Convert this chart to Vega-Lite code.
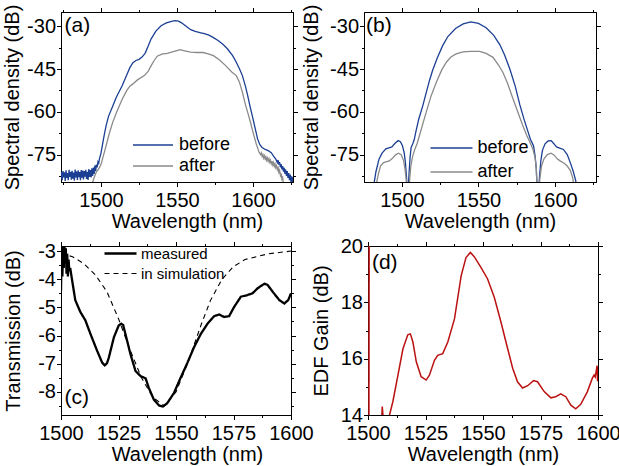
{
  "$schema": "https://vega.github.io/schema/vega-lite/v6.json",
  "background": "white",
  "padding": {"left": 2, "top": 3, "right": 2, "bottom": 0},
  "config": {
    "font": "Liberation Sans",
    "view": {"stroke": "black", "strokeWidth": 1},
    "axis": {"grid": false, "domainColor": "black", "tickColor": "black", "labelColor": "black", "titleColor": "black", "labelFontSize": 20, "titleFontSize": 20, "titleFontWeight": "normal", "labelFont": "Liberation Sans", "titleFont": "Liberation Sans", "labelFlush": false, "labelOverlap": false, "labelBound": false, "labelPadding": 4, "titlePadding": 1, "tickWidth": 1, "domainWidth": 1},
    "axisY": {"labelPadding": 1},
    "legend": {"labelFont": "Liberation Sans", "labelColor": "black"}
  },
  "datasets": {
    "a": [
      {"wl":1472.5,"db":-82,"s":"before"},{"wl":1473,"db":-80.6,"s":"before"},{"wl":1473.5,"db":-83.5,"s":"before"},{"wl":1474,"db":-81,"s":"before"},{"wl":1474.5,"db":-84,"s":"before"},{"wl":1475,"db":-80.8,"s":"before"},{"wl":1475.5,"db":-83,"s":"before"},{"wl":1476,"db":-81.2,"s":"before"},{"wl":1476.5,"db":-84.2,"s":"before"},{"wl":1477,"db":-80.5,"s":"before"},{"wl":1477.5,"db":-83.2,"s":"before"},{"wl":1478,"db":-81.5,"s":"before"},{"wl":1478.5,"db":-84,"s":"before"},{"wl":1479,"db":-80.3,"s":"before"},{"wl":1479.5,"db":-82.8,"s":"before"},{"wl":1480,"db":-81,"s":"before"},{"wl":1480.5,"db":-83.8,"s":"before"},{"wl":1481,"db":-80.7,"s":"before"},{"wl":1481.5,"db":-83.4,"s":"before"},{"wl":1482,"db":-81.3,"s":"before"},{"wl":1482.5,"db":-84.1,"s":"before"},{"wl":1483,"db":-80.2,"s":"before"},{"wl":1483.5,"db":-83,"s":"before"},{"wl":1484,"db":-80.9,"s":"before"},{"wl":1484.5,"db":-83.9,"s":"before"},{"wl":1485,"db":-80.5,"s":"before"},{"wl":1485.5,"db":-82.9,"s":"before"},{"wl":1486,"db":-81.1,"s":"before"},{"wl":1486.5,"db":-84,"s":"before"},{"wl":1487,"db":-80.4,"s":"before"},{"wl":1487.5,"db":-83.1,"s":"before"},{"wl":1488,"db":-80.6,"s":"before"},{"wl":1488.5,"db":-83.7,"s":"before"},{"wl":1489,"db":-80.8,"s":"before"},{"wl":1489.5,"db":-82.7,"s":"before"},{"wl":1490,"db":-80.3,"s":"before"},{"wl":1490.5,"db":-83.5,"s":"before"},{"wl":1491,"db":-81,"s":"before"},{"wl":1491.5,"db":-83.9,"s":"before"},{"wl":1492,"db":-80.1,"s":"before"},{"wl":1492.5,"db":-82.8,"s":"before"},{"wl":1493,"db":-80.4,"s":"before"},{"wl":1493.5,"db":-83,"s":"before"},{"wl":1494,"db":-79.8,"s":"before"},{"wl":1494.5,"db":-82.5,"s":"before"},{"wl":1495,"db":-79.5,"s":"before"},{"wl":1495.5,"db":-81.8,"s":"before"},{"wl":1496,"db":-78.8,"s":"before"},{"wl":1496.5,"db":-80.8,"s":"before"},{"wl":1497,"db":-78.5,"s":"before"},{"wl":1497.5,"db":-79.5,"s":"before"},{"wl":1498,"db":-77.5,"s":"before"},{"wl":1498.5,"db":-78,"s":"before"},{"wl":1499,"db":-76.5,"s":"before"},{"wl":1500,"db":-74.5,"s":"before"},{"wl":1501,"db":-71.5,"s":"before"},{"wl":1502,"db":-68.5,"s":"before"},{"wl":1503.3,"db":-65,"s":"before"},{"wl":1505,"db":-61.5,"s":"before"},{"wl":1507.7,"db":-58,"s":"before"},{"wl":1510,"db":-55,"s":"before"},{"wl":1514,"db":-50.8,"s":"before"},{"wl":1517,"db":-47,"s":"before"},{"wl":1519,"db":-44.5,"s":"before"},{"wl":1521,"db":-42.8,"s":"before"},{"wl":1523,"db":-42,"s":"before"},{"wl":1525,"db":-41.6,"s":"before"},{"wl":1527,"db":-40.8,"s":"before"},{"wl":1529,"db":-39.5,"s":"before"},{"wl":1531,"db":-37,"s":"before"},{"wl":1533,"db":-34.4,"s":"before"},{"wl":1536,"db":-31.8,"s":"before"},{"wl":1539.5,"db":-29.8,"s":"before"},{"wl":1543,"db":-28.8,"s":"before"},{"wl":1547,"db":-28.2,"s":"before"},{"wl":1549,"db":-28,"s":"before"},{"wl":1551,"db":-28.2,"s":"before"},{"wl":1553,"db":-28.8,"s":"before"},{"wl":1556,"db":-30,"s":"before"},{"wl":1559,"db":-31.2,"s":"before"},{"wl":1562,"db":-31.8,"s":"before"},{"wl":1565,"db":-32.2,"s":"before"},{"wl":1568,"db":-32.6,"s":"before"},{"wl":1571,"db":-33.1,"s":"before"},{"wl":1574,"db":-34,"s":"before"},{"wl":1577,"db":-35,"s":"before"},{"wl":1580,"db":-36.2,"s":"before"},{"wl":1583,"db":-37.8,"s":"before"},{"wl":1586.6,"db":-40.3,"s":"before"},{"wl":1589,"db":-42.6,"s":"before"},{"wl":1591,"db":-44.8,"s":"before"},{"wl":1593,"db":-47.3,"s":"before"},{"wl":1595,"db":-51,"s":"before"},{"wl":1596.5,"db":-54.3,"s":"before"},{"wl":1598,"db":-58,"s":"before"},{"wl":1600,"db":-62.5,"s":"before"},{"wl":1601.5,"db":-66,"s":"before"},{"wl":1603,"db":-69.5,"s":"before"},{"wl":1604.5,"db":-71.5,"s":"before"},{"wl":1606,"db":-72.5,"s":"before"},{"wl":1608,"db":-73.2,"s":"before"},{"wl":1610,"db":-73.6,"s":"before"},{"wl":1612,"db":-74.3,"s":"before"},{"wl":1613.5,"db":-75.5,"s":"before"},{"wl":1615,"db":-76.6,"s":"before"},{"wl":1616,"db":-77.8,"s":"before"},{"wl":1616.5,"db":-76.9,"s":"before"},{"wl":1617,"db":-78.5,"s":"before"},{"wl":1617.5,"db":-77.6,"s":"before"},{"wl":1618,"db":-79.5,"s":"before"},{"wl":1618.5,"db":-78.3,"s":"before"},{"wl":1619,"db":-80.2,"s":"before"},{"wl":1619.5,"db":-79,"s":"before"},{"wl":1620,"db":-81,"s":"before"},{"wl":1620.5,"db":-79.6,"s":"before"},{"wl":1621,"db":-81.8,"s":"before"},{"wl":1621.5,"db":-80.2,"s":"before"},{"wl":1622,"db":-82.5,"s":"before"},{"wl":1622.5,"db":-80.8,"s":"before"},{"wl":1623,"db":-83.2,"s":"before"},{"wl":1623.5,"db":-81.5,"s":"before"},{"wl":1624,"db":-84,"s":"before"},{"wl":1624.5,"db":-82,"s":"before"},{"wl":1625,"db":-84.8,"s":"before"},{"wl":1625.5,"db":-82.6,"s":"before"},{"wl":1626,"db":-85,"s":"before"},{"wl":1626.5,"db":-83,"s":"before"},
      {"wl":1494,"db":-85.5,"s":"after"},{"wl":1495.5,"db":-83,"s":"after"},{"wl":1497,"db":-81,"s":"after"},{"wl":1498.5,"db":-80,"s":"after"},{"wl":1500,"db":-78.5,"s":"after"},{"wl":1501.5,"db":-75.5,"s":"after"},{"wl":1503.3,"db":-72,"s":"after"},{"wl":1505.5,"db":-67.5,"s":"after"},{"wl":1507.7,"db":-63.7,"s":"after"},{"wl":1510,"db":-60.5,"s":"after"},{"wl":1514,"db":-55.5,"s":"after"},{"wl":1517,"db":-52.5,"s":"after"},{"wl":1519,"db":-51,"s":"after"},{"wl":1521,"db":-50.2,"s":"after"},{"wl":1524,"db":-48.8,"s":"after"},{"wl":1528.5,"db":-47.3,"s":"after"},{"wl":1531,"db":-45.8,"s":"after"},{"wl":1533,"db":-43.8,"s":"after"},{"wl":1535,"db":-42,"s":"after"},{"wl":1537,"db":-40.5,"s":"after"},{"wl":1540,"db":-39.8,"s":"after"},{"wl":1543.6,"db":-39.5,"s":"after"},{"wl":1547,"db":-39,"s":"after"},{"wl":1550,"db":-38.5,"s":"after"},{"wl":1552,"db":-38.2,"s":"after"},{"wl":1555,"db":-38.6,"s":"after"},{"wl":1559,"db":-39.1,"s":"after"},{"wl":1563,"db":-39.2,"s":"after"},{"wl":1567,"db":-39.2,"s":"after"},{"wl":1570,"db":-39.6,"s":"after"},{"wl":1574,"db":-40.3,"s":"after"},{"wl":1578,"db":-41.8,"s":"after"},{"wl":1582,"db":-43.8,"s":"after"},{"wl":1586,"db":-46,"s":"after"},{"wl":1589,"db":-47.3,"s":"after"},{"wl":1591,"db":-49.5,"s":"after"},{"wl":1593,"db":-53.1,"s":"after"},{"wl":1595,"db":-57.5,"s":"after"},{"wl":1596.5,"db":-60.2,"s":"after"},{"wl":1598.5,"db":-64,"s":"after"},{"wl":1600,"db":-67.2,"s":"after"},{"wl":1602,"db":-71,"s":"after"},{"wl":1604,"db":-74.2,"s":"after"},{"wl":1605,"db":-75,"s":"after"},{"wl":1605.5,"db":-74.4,"s":"after"},{"wl":1606,"db":-75.6,"s":"after"},{"wl":1606.5,"db":-75,"s":"after"},{"wl":1607,"db":-76.2,"s":"after"},{"wl":1607.5,"db":-75.4,"s":"after"},{"wl":1608,"db":-76.5,"s":"after"},{"wl":1608.5,"db":-75.8,"s":"after"},{"wl":1609,"db":-77,"s":"after"},{"wl":1609.5,"db":-76.2,"s":"after"},{"wl":1610,"db":-77.3,"s":"after"},{"wl":1610.5,"db":-76.5,"s":"after"},{"wl":1611,"db":-77.7,"s":"after"},{"wl":1611.5,"db":-77,"s":"after"},{"wl":1612,"db":-78.2,"s":"after"},{"wl":1612.5,"db":-77.3,"s":"after"},{"wl":1613,"db":-78.6,"s":"after"},{"wl":1613.5,"db":-77.8,"s":"after"},{"wl":1614,"db":-79.1,"s":"after"},{"wl":1614.5,"db":-78.3,"s":"after"},{"wl":1615,"db":-79.6,"s":"after"},{"wl":1615.5,"db":-78.9,"s":"after"},{"wl":1616,"db":-80.3,"s":"after"},{"wl":1616.5,"db":-79.6,"s":"after"},{"wl":1617,"db":-81.2,"s":"after"},{"wl":1617.5,"db":-80.5,"s":"after"},{"wl":1618,"db":-82.3,"s":"after"},{"wl":1618.5,"db":-81.6,"s":"after"},{"wl":1619,"db":-83.6,"s":"after"},{"wl":1619.5,"db":-83,"s":"after"},{"wl":1620,"db":-85.5,"s":"after"}
    ],
    "b": [
      {"wl":1481.5,"db":-86,"s":"before"},{"wl":1483,"db":-81,"s":"before"},{"wl":1485,"db":-76.6,"s":"before"},{"wl":1487,"db":-74.5,"s":"before"},{"wl":1489.5,"db":-73,"s":"before"},{"wl":1491.5,"db":-72.6,"s":"before"},{"wl":1493.4,"db":-72.3,"s":"before"},{"wl":1495.5,"db":-71,"s":"before"},{"wl":1497.5,"db":-70.1,"s":"before"},{"wl":1499,"db":-70.5,"s":"before"},{"wl":1500.4,"db":-72,"s":"before"},{"wl":1501.5,"db":-74.5,"s":"before"},{"wl":1502.3,"db":-78,"s":"before"},{"wl":1503,"db":-83,"s":"before"},{"wl":1503.5,"db":-88,"s":"before"},{"wl":1504,"db":-88,"s":"before"},{"wl":1504.6,"db":-82,"s":"before"},{"wl":1505.3,"db":-76,"s":"before"},{"wl":1506,"db":-72.5,"s":"before"},{"wl":1507,"db":-71.3,"s":"before"},{"wl":1508,"db":-69.8,"s":"before"},{"wl":1509,"db":-67.2,"s":"before"},{"wl":1511,"db":-62.5,"s":"before"},{"wl":1513.6,"db":-57.9,"s":"before"},{"wl":1516,"db":-53,"s":"before"},{"wl":1518,"db":-49,"s":"before"},{"wl":1520,"db":-45.5,"s":"before"},{"wl":1523,"db":-41.2,"s":"before"},{"wl":1526.6,"db":-36.8,"s":"before"},{"wl":1530,"db":-33.6,"s":"before"},{"wl":1535,"db":-30.8,"s":"before"},{"wl":1540,"db":-29.2,"s":"before"},{"wl":1545,"db":-28.5,"s":"before"},{"wl":1550,"db":-29,"s":"before"},{"wl":1555,"db":-30.5,"s":"before"},{"wl":1560,"db":-33.2,"s":"before"},{"wl":1564,"db":-36.5,"s":"before"},{"wl":1567,"db":-40,"s":"before"},{"wl":1570.5,"db":-45,"s":"before"},{"wl":1574,"db":-51,"s":"before"},{"wl":1577,"db":-57.5,"s":"before"},{"wl":1580,"db":-63,"s":"before"},{"wl":1582.5,"db":-67.2,"s":"before"},{"wl":1584,"db":-69.7,"s":"before"},{"wl":1585,"db":-70.8,"s":"before"},{"wl":1586,"db":-72,"s":"before"},{"wl":1587,"db":-75.5,"s":"before"},{"wl":1587.8,"db":-80,"s":"before"},{"wl":1588.4,"db":-88,"s":"before"},{"wl":1589.2,"db":-88,"s":"before"},{"wl":1590,"db":-82,"s":"before"},{"wl":1590.8,"db":-77,"s":"before"},{"wl":1591.8,"db":-73.5,"s":"before"},{"wl":1593.5,"db":-71.2,"s":"before"},{"wl":1595.5,"db":-70.2,"s":"before"},{"wl":1597.5,"db":-70.1,"s":"before"},{"wl":1599,"db":-71,"s":"before"},{"wl":1601,"db":-72.3,"s":"before"},{"wl":1603,"db":-72.7,"s":"before"},{"wl":1605.5,"db":-73.2,"s":"before"},{"wl":1608,"db":-75,"s":"before"},{"wl":1610,"db":-77.8,"s":"before"},{"wl":1612,"db":-81,"s":"before"},{"wl":1613.5,"db":-84,"s":"before"},{"wl":1614.5,"db":-87,"s":"before"},
      {"wl":1483,"db":-86,"s":"after"},{"wl":1484.5,"db":-82,"s":"after"},{"wl":1486,"db":-79,"s":"after"},{"wl":1488,"db":-77.8,"s":"after"},{"wl":1491.7,"db":-77.2,"s":"after"},{"wl":1494,"db":-76.2,"s":"after"},{"wl":1496,"db":-75,"s":"after"},{"wl":1497.8,"db":-74.5,"s":"after"},{"wl":1499.5,"db":-75,"s":"after"},{"wl":1501,"db":-77,"s":"after"},{"wl":1502,"db":-80,"s":"after"},{"wl":1502.8,"db":-84,"s":"after"},{"wl":1503.4,"db":-88,"s":"after"},{"wl":1504.4,"db":-88,"s":"after"},{"wl":1505,"db":-84,"s":"after"},{"wl":1505.8,"db":-79,"s":"after"},{"wl":1507,"db":-75.5,"s":"after"},{"wl":1508.5,"db":-73,"s":"after"},{"wl":1510,"db":-71,"s":"after"},{"wl":1511.4,"db":-68.4,"s":"after"},{"wl":1513.5,"db":-64.5,"s":"after"},{"wl":1515.8,"db":-60.2,"s":"after"},{"wl":1519,"db":-54.5,"s":"after"},{"wl":1522.4,"db":-49.7,"s":"after"},{"wl":1526,"db":-45.3,"s":"after"},{"wl":1529,"db":-42.6,"s":"after"},{"wl":1532,"db":-40.8,"s":"after"},{"wl":1535.4,"db":-39.7,"s":"after"},{"wl":1540,"db":-39,"s":"after"},{"wl":1545,"db":-38.8,"s":"after"},{"wl":1550.7,"db":-38.8,"s":"after"},{"wl":1555,"db":-39.5,"s":"after"},{"wl":1559.5,"db":-40.9,"s":"after"},{"wl":1563,"db":-43.5,"s":"after"},{"wl":1566,"db":-46.2,"s":"after"},{"wl":1569,"db":-50,"s":"after"},{"wl":1572.6,"db":-55.5,"s":"after"},{"wl":1576,"db":-60.5,"s":"after"},{"wl":1579,"db":-64.9,"s":"after"},{"wl":1581.5,"db":-68.2,"s":"after"},{"wl":1583.6,"db":-70.7,"s":"after"},{"wl":1585.5,"db":-73,"s":"after"},{"wl":1587,"db":-76,"s":"after"},{"wl":1587.8,"db":-80,"s":"after"},{"wl":1588.4,"db":-88,"s":"after"},{"wl":1589.4,"db":-88,"s":"after"},{"wl":1590.2,"db":-83,"s":"after"},{"wl":1591.2,"db":-79,"s":"after"},{"wl":1592.8,"db":-76.5,"s":"after"},{"wl":1595,"db":-75,"s":"after"},{"wl":1597.4,"db":-74.5,"s":"after"},{"wl":1599.5,"db":-75.2,"s":"after"},{"wl":1601.5,"db":-76.5,"s":"after"},{"wl":1603.3,"db":-77.2,"s":"after"},{"wl":1606,"db":-78,"s":"after"},{"wl":1608,"db":-79,"s":"after"},{"wl":1610,"db":-80.5,"s":"after"},{"wl":1611.5,"db":-83,"s":"after"},{"wl":1612.5,"db":-86,"s":"after"}
    ],
    "c": [
      {"wl":1500,"t":-4.4,"s":"measured"},{"wl":1500.3,"t":-2.8,"s":"measured"},{"wl":1500.6,"t":-3.9,"s":"measured"},{"wl":1500.9,"t":-2.8,"s":"measured"},{"wl":1501.2,"t":-3.6,"s":"measured"},{"wl":1501.5,"t":-2.8,"s":"measured"},{"wl":1501.8,"t":-3.4,"s":"measured"},{"wl":1502.1,"t":-2.9,"s":"measured"},{"wl":1502.4,"t":-3.8,"s":"measured"},{"wl":1502.7,"t":-3.1,"s":"measured"},{"wl":1503,"t":-3.9,"s":"measured"},{"wl":1503.3,"t":-3.3,"s":"measured"},{"wl":1503.6,"t":-3.7,"s":"measured"},{"wl":1504,"t":-3.6,"s":"measured"},{"wl":1504.8,"t":-4.02,"s":"measured"},{"wl":1506.2,"t":-4.74,"s":"measured"},{"wl":1508.4,"t":-5.16,"s":"measured"},{"wl":1510.6,"t":-5.46,"s":"measured"},{"wl":1512.8,"t":-5.94,"s":"measured"},{"wl":1515.7,"t":-6.54,"s":"measured"},{"wl":1517.9,"t":-6.96,"s":"measured"},{"wl":1519,"t":-7.06,"s":"measured"},{"wl":1520,"t":-6.98,"s":"measured"},{"wl":1520.8,"t":-6.78,"s":"measured"},{"wl":1523,"t":-6.06,"s":"measured"},{"wl":1525.1,"t":-5.64,"s":"measured"},{"wl":1526.2,"t":-5.58,"s":"measured"},{"wl":1527,"t":-5.62,"s":"measured"},{"wl":1528,"t":-5.94,"s":"measured"},{"wl":1530.2,"t":-6.66,"s":"measured"},{"wl":1532.4,"t":-7.26,"s":"measured"},{"wl":1534.6,"t":-7.44,"s":"measured"},{"wl":1536.8,"t":-7.52,"s":"measured"},{"wl":1538.2,"t":-7.86,"s":"measured"},{"wl":1540.4,"t":-8.28,"s":"measured"},{"wl":1542.6,"t":-8.48,"s":"measured"},{"wl":1544.3,"t":-8.52,"s":"measured"},{"wl":1546.2,"t":-8.4,"s":"measured"},{"wl":1549.1,"t":-8.04,"s":"measured"},{"wl":1552,"t":-7.5,"s":"measured"},{"wl":1555,"t":-6.96,"s":"measured"},{"wl":1557.8,"t":-6.42,"s":"measured"},{"wl":1560.8,"t":-5.94,"s":"measured"},{"wl":1563.7,"t":-5.58,"s":"measured"},{"wl":1566.6,"t":-5.31,"s":"measured"},{"wl":1568.8,"t":-5.25,"s":"measured"},{"wl":1570.9,"t":-5.34,"s":"measured"},{"wl":1573.1,"t":-5.31,"s":"measured"},{"wl":1575.3,"t":-4.98,"s":"measured"},{"wl":1578.2,"t":-4.62,"s":"measured"},{"wl":1581.1,"t":-4.56,"s":"measured"},{"wl":1583.3,"t":-4.5,"s":"measured"},{"wl":1585.5,"t":-4.32,"s":"measured"},{"wl":1588.4,"t":-4.16,"s":"measured"},{"wl":1589.8,"t":-4.2,"s":"measured"},{"wl":1592,"t":-4.44,"s":"measured"},{"wl":1594.9,"t":-4.74,"s":"measured"},{"wl":1597.1,"t":-4.86,"s":"measured"},{"wl":1598.8,"t":-4.74,"s":"measured"},{"wl":1600,"t":-4.5,"s":"measured"},
      {"wl":1500,"t":-3.08,"s":"in simulation"},{"wl":1505,"t":-3.2,"s":"in simulation"},{"wl":1510,"t":-3.45,"s":"in simulation"},{"wl":1515,"t":-3.85,"s":"in simulation"},{"wl":1520,"t":-4.45,"s":"in simulation"},{"wl":1525,"t":-5.4,"s":"in simulation"},{"wl":1530,"t":-6.5,"s":"in simulation"},{"wl":1535,"t":-7.5,"s":"in simulation"},{"wl":1540,"t":-8.2,"s":"in simulation"},{"wl":1545,"t":-8.5,"s":"in simulation"},{"wl":1550,"t":-8.0,"s":"in simulation"},{"wl":1555,"t":-7.0,"s":"in simulation"},{"wl":1558,"t":-6.3,"s":"in simulation"},{"wl":1561,"t":-5.6,"s":"in simulation"},{"wl":1565,"t":-4.75,"s":"in simulation"},{"wl":1570,"t":-4.0,"s":"in simulation"},{"wl":1575,"t":-3.55,"s":"in simulation"},{"wl":1580,"t":-3.3,"s":"in simulation"},{"wl":1590,"t":-3.1,"s":"in simulation"},{"wl":1600,"t":-3.0,"s":"in simulation"}
    ],
    "d": [
      {"wl":1500.4,"g":13.8,"seg":1},{"wl":1500.5,"g":20.2,"seg":1},
      {"wl":1506.0,"g":13.9,"seg":2},{"wl":1506.2,"g":14.3,"seg":2},{"wl":1506.4,"g":14.1,"seg":2},{"wl":1506.6,"g":13.9,"seg":2},
      {"wl":1509.2,"g":13.95,"seg":3},{"wl":1510.8,"g":14.47,"seg":3},{"wl":1513,"g":15.41,"seg":3},{"wl":1515.2,"g":16.35,"seg":3},{"wl":1517.3,"g":16.85,"seg":3},{"wl":1518.4,"g":16.88,"seg":3},{"wl":1519.5,"g":16.6,"seg":3},{"wl":1521,"g":15.89,"seg":3},{"wl":1523.1,"g":15.36,"seg":3},{"wl":1525.3,"g":15.24,"seg":3},{"wl":1526.7,"g":15.41,"seg":3},{"wl":1528.9,"g":15.94,"seg":3},{"wl":1530.3,"g":16.12,"seg":3},{"wl":1532.5,"g":16.18,"seg":3},{"wl":1534.7,"g":16.59,"seg":3},{"wl":1537.6,"g":17.41,"seg":3},{"wl":1540.5,"g":18.94,"seg":3},{"wl":1542.6,"g":19.59,"seg":3},{"wl":1544.5,"g":19.77,"seg":3},{"wl":1546.2,"g":19.62,"seg":3},{"wl":1549.1,"g":19.24,"seg":3},{"wl":1552,"g":18.83,"seg":3},{"wl":1554.9,"g":18.18,"seg":3},{"wl":1557.8,"g":17.3,"seg":3},{"wl":1560.7,"g":16.36,"seg":3},{"wl":1562.9,"g":15.66,"seg":3},{"wl":1565,"g":15.18,"seg":3},{"wl":1567.2,"g":14.96,"seg":3},{"wl":1569.4,"g":15.04,"seg":3},{"wl":1572,"g":15.22,"seg":3},{"wl":1573.7,"g":15.18,"seg":3},{"wl":1576.6,"g":14.83,"seg":3},{"wl":1579.5,"g":14.61,"seg":3},{"wl":1581.6,"g":14.65,"seg":3},{"wl":1583.8,"g":14.75,"seg":3},{"wl":1586,"g":14.65,"seg":3},{"wl":1588.2,"g":14.35,"seg":3},{"wl":1590.3,"g":14.22,"seg":3},{"wl":1592.5,"g":14.38,"seg":3},{"wl":1595.4,"g":14.83,"seg":3},{"wl":1597.5,"g":15.3,"seg":3},{"wl":1598.3,"g":15.42,"seg":3},{"wl":1598.8,"g":15.35,"seg":3},{"wl":1599.3,"g":15.6,"seg":3},{"wl":1599.6,"g":15.75,"seg":3},{"wl":1599.8,"g":15.2,"seg":3},{"wl":1600,"g":15.7,"seg":3}
    ],
    "lab": [
      {"p":"a","x":1476,"y":-30,"label":"(a)"},
      {"p":"b","x":1476.5,"y":-30,"label":"(b)"},
      {"p":"c","x":1501.5,"y":-8.2,"label":"(c)"},
      {"p":"d","x":1501.7,"y":19.4,"label":"(d)"}
    ]
  },
  "spacing": 3,
  "resolve": {"scale": {"color": "independent", "strokeDash": "independent", "strokeWidth": "independent"}, "legend": {"color": "independent", "strokeDash": "independent"}},
  "vconcat": [
    {
      "spacing": 71,
      "bounds": "flush",
      "resolve": {"scale": {"color": "independent"}, "legend": {"color": "independent"}},
      "hconcat": [
        {
          "width": 232, "height": 170,
          "resolve": {"axis": {"x": "independent", "y": "independent"}},
          "layer": [
            {
              "data": {"name": "a"},
              "mark": {"type": "line", "strokeWidth": 1.3, "clip": true},
              "encoding": {
                "x": {"field": "wl", "type": "quantitative", "scale": {"domain": [1473.7, 1626.3], "nice": false, "zero": false},
                  "axis": {"values": [1475, 1500, 1525, 1550, 1575, 1600, 1625], "labelExpr": "datum.value % 50 == 0 ? '' + datum.value : ''", "tickSize": {"condition": {"test": "datum.value % 50 != 0", "value": 2.5}, "value": 4.5}, "title": "Wavelength (nm)", "titleX": 126}},
                "y": {"field": "db", "type": "quantitative", "scale": {"domain": [-84.6, -25], "nice": false, "zero": false},
                  "axis": {"values": [-82.5, -75, -67.5, -60, -52.5, -45, -37.5, -30], "labelExpr": "datum.value % 15 == 0 ? '' + datum.value : ''", "tickSize": {"condition": {"test": "datum.value % 15 != 0", "value": 2.5}, "value": 4.5}, "title": "Spectral density (dB)", "titlePadding": 4}},
                "color": {"field": "s", "type": "nominal", "scale": {"domain": ["before", "after"], "range": ["#1c3f94", "#8a8a8a"]},
                  "legend": {"orient": "none", "legendX": 83, "legendY": 124, "title": null, "symbolType": "M-8,0H8", "symbolSize": 25, "symbolStrokeWidth": 1.5, "labelFontSize": 18, "labelOffset": 17, "rowPadding": 3, "padding": 0}}
              }
            },
            {
              "data": {"name": "lab"},
              "transform": [{"filter": "datum.p == 'a'"}],
              "mark": {"type": "text", "align": "left", "baseline": "middle", "fontSize": 21, "color": "black"},
              "encoding": {
                "x": {"field": "x", "type": "quantitative", "scale": {"domain": [1473.7, 1626.3], "nice": false, "zero": false},
                  "axis": {"orient": "top", "labels": false, "title": null, "values": [1475, 1500, 1525, 1550, 1575, 1600, 1625], "tickSize": {"condition": {"test": "datum.value % 50 != 0", "value": 2.5}, "value": 4.5}}},
                "y": {"field": "y", "type": "quantitative", "scale": {"domain": [-84.6, -25], "nice": false, "zero": false},
                  "axis": {"orient": "right", "labels": false, "title": null, "values": [-82.5, -75, -67.5, -60, -52.5, -45, -37.5, -30], "tickSize": {"condition": {"test": "datum.value % 15 != 0", "value": 2.5}, "value": 4.5}}},
                "text": {"field": "label"}
              }
            }
          ]
        },
        {
          "width": 232, "height": 170,
          "resolve": {"axis": {"x": "independent", "y": "independent"}},
          "layer": [
            {
              "data": {"name": "b"},
              "mark": {"type": "line", "strokeWidth": 1.3, "clip": true},
              "encoding": {
                "x": {"field": "wl", "type": "quantitative", "scale": {"domain": [1475.2, 1626.8], "nice": false, "zero": false},
                  "axis": {"values": [1475, 1500, 1525, 1550, 1575, 1600, 1625], "labelExpr": "datum.value % 50 == 0 ? '' + datum.value : ''", "tickSize": {"condition": {"test": "datum.value % 50 != 0", "value": 2.5}, "value": 4.5}, "title": "Wavelength (nm)"}},
                "y": {"field": "db", "type": "quantitative", "scale": {"domain": [-84.6, -25], "nice": false, "zero": false},
                  "axis": {"values": [-82.5, -75, -67.5, -60, -52.5, -45, -37.5, -30], "labelExpr": "datum.value % 15 == 0 ? '' + datum.value : ''", "tickSize": {"condition": {"test": "datum.value % 15 != 0", "value": 2.5}, "value": 4.5}, "title": "Spectral density (dB)", "titlePadding": 8}},
                "color": {"field": "s", "type": "nominal", "scale": {"domain": ["before", "after"], "range": ["#1c3f94", "#8a8a8a"]},
                  "legend": {"orient": "none", "legendX": 78.5, "legendY": 127, "title": null, "symbolType": "M-8.4,0H8.4", "symbolSize": 25, "symbolStrokeWidth": 1.5, "labelFontSize": 18, "labelOffset": 17, "rowPadding": 6, "padding": 0}}
              }
            },
            {
              "data": {"name": "lab"},
              "transform": [{"filter": "datum.p == 'b'"}],
              "mark": {"type": "text", "align": "left", "baseline": "middle", "fontSize": 21, "color": "black"},
              "encoding": {
                "x": {"field": "x", "type": "quantitative", "scale": {"domain": [1475.2, 1626.8], "nice": false, "zero": false},
                  "axis": {"orient": "top", "labels": false, "title": null, "values": [1475, 1500, 1525, 1550, 1575, 1600, 1625], "tickSize": {"condition": {"test": "datum.value % 50 != 0", "value": 2.5}, "value": 4.5}}},
                "y": {"field": "y", "type": "quantitative", "scale": {"domain": [-84.6, -25], "nice": false, "zero": false},
                  "axis": {"orient": "right", "labels": false, "title": null, "values": [-82.5, -75, -67.5, -60, -52.5, -45, -37.5, -30], "tickSize": {"condition": {"test": "datum.value % 15 != 0", "value": 2.5}, "value": 4.5}}},
                "text": {"field": "label"}
              }
            }
          ]
        }
      ]
    },
    {
      "spacing": 77,
      "bounds": "flush",
      "resolve": {"scale": {"strokeDash": "independent", "strokeWidth": "independent"}, "legend": {"strokeDash": "independent"}},
      "hconcat": [
        {
          "width": 230, "height": 169,
          "resolve": {"axis": {"x": "independent", "y": "independent"}},
          "layer": [
            {
              "data": {"name": "c"},
              "mark": {"type": "line", "color": "black", "clip": true},
              "encoding": {
                "x": {"field": "wl", "type": "quantitative", "scale": {"domain": [1500, 1600], "nice": false, "zero": false},
                  "axis": {"values": [1500, 1512.5, 1525, 1537.5, 1550, 1562.5, 1575, 1587.5, 1600], "labelExpr": "datum.value % 25 == 0 ? '' + datum.value : ''", "tickSize": {"condition": {"test": "datum.value % 25 != 0", "value": 2.5}, "value": 4.5}, "title": "Wavelength (nm)", "titleX": 126}},
                "y": {"field": "t", "type": "quantitative", "scale": {"domain": [-8.82, -2.82], "nice": false, "zero": false},
                  "axis": {"values": [-8.5, -8, -7.5, -7, -6.5, -6, -5.5, -5, -4.5, -4, -3.5, -3], "labelExpr": "datum.value % 1 == 0 ? '' + datum.value : ''", "tickSize": {"condition": {"test": "datum.value % 1 != 0", "value": 2.5}, "value": 4.5}, "title": "Transmission (dB)", "titlePadding": 14}},
                "strokeDash": {"field": "s", "type": "nominal", "scale": {"domain": ["measured", "in simulation"], "range": [[1, 0], [5, 4]]},
                  "legend": {"orient": "none", "legendX": 52, "legendY": 0, "title": null, "symbolType": "M-8,0H8", "symbolSize": 16, "symbolStrokeWidth": 1.5, "symbolStrokeColor": "black", "labelFontSize": 15, "labelOffset": 13, "rowPadding": 4, "padding": 0}},
                "strokeWidth": {"field": "s", "type": "nominal", "scale": {"domain": ["measured", "in simulation"], "range": [2.3, 1.1]}, "legend": null}
              }
            },
            {
              "data": {"name": "lab"},
              "transform": [{"filter": "datum.p == 'c'"}],
              "mark": {"type": "text", "align": "left", "baseline": "middle", "fontSize": 21, "color": "black"},
              "encoding": {
                "x": {"field": "x", "type": "quantitative", "scale": {"domain": [1500, 1600], "nice": false, "zero": false},
                  "axis": {"orient": "top", "labels": false, "title": null, "values": [1500, 1512.5, 1525, 1537.5, 1550, 1562.5, 1575, 1587.5, 1600], "tickSize": {"condition": {"test": "datum.value % 25 != 0", "value": 2.5}, "value": 4.5}}},
                "y": {"field": "y", "type": "quantitative", "scale": {"domain": [-8.82, -2.82], "nice": false, "zero": false},
                  "axis": {"orient": "right", "labels": false, "title": null, "values": [-8.5, -8, -7.5, -7, -6.5, -6, -5.5, -5, -4.5, -4, -3.5, -3], "tickSize": {"condition": {"test": "datum.value % 1 != 0", "value": 2.5}, "value": 4.5}}},
                "text": {"field": "label"}
              }
            }
          ]
        },
        {
          "width": 230, "height": 169,
          "resolve": {"axis": {"x": "independent", "y": "independent"}},
          "layer": [
            {
              "data": {"name": "d"},
              "mark": {"type": "line", "color": "#bb1111", "strokeWidth": 1.5, "clip": true},
              "encoding": {
                "x": {"field": "wl", "type": "quantitative", "scale": {"domain": [1500, 1600], "nice": false, "zero": false},
                  "axis": {"values": [1500, 1512.5, 1525, 1537.5, 1550, 1562.5, 1575, 1587.5, 1600], "labelExpr": "datum.value % 25 == 0 ? '' + datum.value : ''", "tickSize": {"condition": {"test": "datum.value % 25 != 0", "value": 2.5}, "value": 4.5}, "title": "Wavelength (nm)"}},
                "y": {"field": "g", "type": "quantitative", "scale": {"domain": [14, 20], "nice": false, "zero": false},
                  "axis": {"values": [14, 15, 16, 17, 18, 19, 20], "labelExpr": "datum.value % 2 == 0 ? '' + datum.value : ''", "tickSize": {"condition": {"test": "datum.value % 2 != 0", "value": 2.5}, "value": 4.5}, "title": "EDF Gain (dB)", "titlePadding": 9}},
                "detail": {"field": "seg", "type": "nominal"}
              }
            },
            {
              "data": {"name": "lab"},
              "transform": [{"filter": "datum.p == 'd'"}],
              "mark": {"type": "text", "align": "left", "baseline": "middle", "fontSize": 21, "color": "black"},
              "encoding": {
                "x": {"field": "x", "type": "quantitative", "scale": {"domain": [1500, 1600], "nice": false, "zero": false},
                  "axis": {"orient": "top", "labels": false, "title": null, "values": [1500, 1512.5, 1525, 1537.5, 1550, 1562.5, 1575, 1587.5, 1600], "tickSize": {"condition": {"test": "datum.value % 25 != 0", "value": 2.5}, "value": 4.5}}},
                "y": {"field": "y", "type": "quantitative", "scale": {"domain": [14, 20], "nice": false, "zero": false},
                  "axis": {"orient": "right", "labels": false, "title": null, "values": [14, 15, 16, 17, 18, 19, 20], "tickSize": {"condition": {"test": "datum.value % 2 != 0", "value": 2.5}, "value": 4.5}}},
                "text": {"field": "label"}
              }
            }
          ]
        }
      ]
    }
  ]
}
